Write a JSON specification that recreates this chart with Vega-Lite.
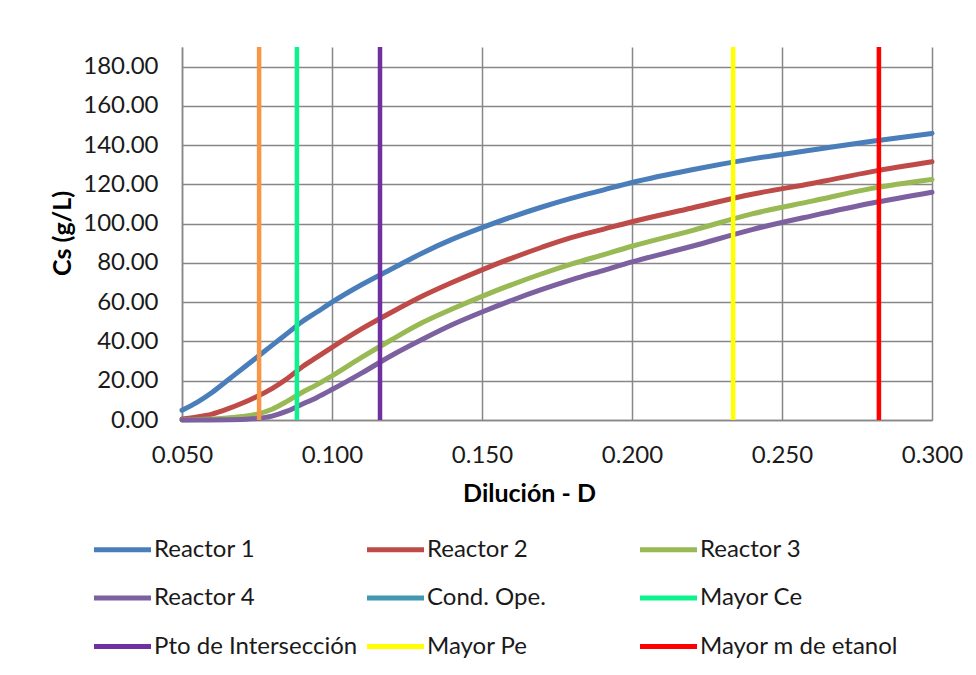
{
  "$schema": "https://vega.github.io/schema/vega-lite/v6.json",
  "width": 750,
  "height": 373,
  "autosize": "none",
  "padding": {"left": 182, "top": 47, "right": 44, "bottom": 255},
  "background": "white",
  "config": {
    "font": "Lato",
    "view": {"stroke": null},
    "axis": {
      "gridColor": "#878787",
      "gridWidth": 1.5,
      "domainColor": "#878787",
      "domainWidth": 1.5,
      "ticks": false,
      "labelFont": "Lato",
      "labelFontSize": 24,
      "labelColor": "#1a1a1a",
      "labelFlush": false,
      "titleFont": "Lato",
      "titleFontSize": 25,
      "titleFontWeight": "bold",
      "titleColor": "#000000"
    }
  },
  "datasets": {
    "curves": [
      {"D": 0.050, "Cs": 5, "serie": "Reactor 1"},
      {"D": 0.055, "Cs": 9, "serie": "Reactor 1"},
      {"D": 0.060, "Cs": 14, "serie": "Reactor 1"},
      {"D": 0.065, "Cs": 20, "serie": "Reactor 1"},
      {"D": 0.070, "Cs": 26, "serie": "Reactor 1"},
      {"D": 0.075, "Cs": 32, "serie": "Reactor 1"},
      {"D": 0.080, "Cs": 38, "serie": "Reactor 1"},
      {"D": 0.085, "Cs": 44, "serie": "Reactor 1"},
      {"D": 0.090, "Cs": 50, "serie": "Reactor 1"},
      {"D": 0.095, "Cs": 55, "serie": "Reactor 1"},
      {"D": 0.100, "Cs": 60, "serie": "Reactor 1"},
      {"D": 0.110, "Cs": 69, "serie": "Reactor 1"},
      {"D": 0.120, "Cs": 77, "serie": "Reactor 1"},
      {"D": 0.130, "Cs": 85, "serie": "Reactor 1"},
      {"D": 0.140, "Cs": 92, "serie": "Reactor 1"},
      {"D": 0.150, "Cs": 98, "serie": "Reactor 1"},
      {"D": 0.160, "Cs": 103.5, "serie": "Reactor 1"},
      {"D": 0.170, "Cs": 108.5, "serie": "Reactor 1"},
      {"D": 0.180, "Cs": 113, "serie": "Reactor 1"},
      {"D": 0.190, "Cs": 117, "serie": "Reactor 1"},
      {"D": 0.200, "Cs": 121, "serie": "Reactor 1"},
      {"D": 0.220, "Cs": 127.5, "serie": "Reactor 1"},
      {"D": 0.240, "Cs": 133, "serie": "Reactor 1"},
      {"D": 0.260, "Cs": 137.5, "serie": "Reactor 1"},
      {"D": 0.280, "Cs": 142, "serie": "Reactor 1"},
      {"D": 0.300, "Cs": 146, "serie": "Reactor 1"},

      {"D": 0.050, "Cs": 0.5, "serie": "Reactor 2"},
      {"D": 0.055, "Cs": 1.5, "serie": "Reactor 2"},
      {"D": 0.060, "Cs": 3, "serie": "Reactor 2"},
      {"D": 0.065, "Cs": 5.5, "serie": "Reactor 2"},
      {"D": 0.070, "Cs": 8.5, "serie": "Reactor 2"},
      {"D": 0.075, "Cs": 12, "serie": "Reactor 2"},
      {"D": 0.080, "Cs": 16, "serie": "Reactor 2"},
      {"D": 0.085, "Cs": 21, "serie": "Reactor 2"},
      {"D": 0.090, "Cs": 27, "serie": "Reactor 2"},
      {"D": 0.095, "Cs": 32, "serie": "Reactor 2"},
      {"D": 0.100, "Cs": 37, "serie": "Reactor 2"},
      {"D": 0.110, "Cs": 46.5, "serie": "Reactor 2"},
      {"D": 0.120, "Cs": 55, "serie": "Reactor 2"},
      {"D": 0.130, "Cs": 63, "serie": "Reactor 2"},
      {"D": 0.140, "Cs": 70, "serie": "Reactor 2"},
      {"D": 0.150, "Cs": 76.5, "serie": "Reactor 2"},
      {"D": 0.160, "Cs": 82.5, "serie": "Reactor 2"},
      {"D": 0.170, "Cs": 88, "serie": "Reactor 2"},
      {"D": 0.180, "Cs": 93, "serie": "Reactor 2"},
      {"D": 0.190, "Cs": 97, "serie": "Reactor 2"},
      {"D": 0.200, "Cs": 101, "serie": "Reactor 2"},
      {"D": 0.220, "Cs": 108, "serie": "Reactor 2"},
      {"D": 0.240, "Cs": 115, "serie": "Reactor 2"},
      {"D": 0.260, "Cs": 120.5, "serie": "Reactor 2"},
      {"D": 0.280, "Cs": 126.5, "serie": "Reactor 2"},
      {"D": 0.300, "Cs": 131.5, "serie": "Reactor 2"},

      {"D": 0.050, "Cs": 0, "serie": "Reactor 3"},
      {"D": 0.060, "Cs": 0.5, "serie": "Reactor 3"},
      {"D": 0.065, "Cs": 1, "serie": "Reactor 3"},
      {"D": 0.070, "Cs": 1.8, "serie": "Reactor 3"},
      {"D": 0.075, "Cs": 3, "serie": "Reactor 3"},
      {"D": 0.080, "Cs": 5.5, "serie": "Reactor 3"},
      {"D": 0.085, "Cs": 9.5, "serie": "Reactor 3"},
      {"D": 0.090, "Cs": 14, "serie": "Reactor 3"},
      {"D": 0.095, "Cs": 18, "serie": "Reactor 3"},
      {"D": 0.100, "Cs": 22.5, "serie": "Reactor 3"},
      {"D": 0.110, "Cs": 32, "serie": "Reactor 3"},
      {"D": 0.120, "Cs": 41, "serie": "Reactor 3"},
      {"D": 0.130, "Cs": 49.5, "serie": "Reactor 3"},
      {"D": 0.140, "Cs": 56.5, "serie": "Reactor 3"},
      {"D": 0.150, "Cs": 63, "serie": "Reactor 3"},
      {"D": 0.160, "Cs": 69, "serie": "Reactor 3"},
      {"D": 0.170, "Cs": 74.5, "serie": "Reactor 3"},
      {"D": 0.180, "Cs": 79.5, "serie": "Reactor 3"},
      {"D": 0.190, "Cs": 84, "serie": "Reactor 3"},
      {"D": 0.200, "Cs": 88.5, "serie": "Reactor 3"},
      {"D": 0.220, "Cs": 96.5, "serie": "Reactor 3"},
      {"D": 0.240, "Cs": 105, "serie": "Reactor 3"},
      {"D": 0.260, "Cs": 111.5, "serie": "Reactor 3"},
      {"D": 0.280, "Cs": 118, "serie": "Reactor 3"},
      {"D": 0.300, "Cs": 122.5, "serie": "Reactor 3"},

      {"D": 0.050, "Cs": 0, "serie": "Reactor 4"},
      {"D": 0.070, "Cs": 0.3, "serie": "Reactor 4"},
      {"D": 0.075, "Cs": 0.8, "serie": "Reactor 4"},
      {"D": 0.080, "Cs": 2, "serie": "Reactor 4"},
      {"D": 0.085, "Cs": 4.5, "serie": "Reactor 4"},
      {"D": 0.090, "Cs": 8, "serie": "Reactor 4"},
      {"D": 0.095, "Cs": 11.5, "serie": "Reactor 4"},
      {"D": 0.100, "Cs": 15.5, "serie": "Reactor 4"},
      {"D": 0.110, "Cs": 24, "serie": "Reactor 4"},
      {"D": 0.120, "Cs": 33, "serie": "Reactor 4"},
      {"D": 0.130, "Cs": 41, "serie": "Reactor 4"},
      {"D": 0.140, "Cs": 48.5, "serie": "Reactor 4"},
      {"D": 0.150, "Cs": 55, "serie": "Reactor 4"},
      {"D": 0.160, "Cs": 61, "serie": "Reactor 4"},
      {"D": 0.170, "Cs": 66.5, "serie": "Reactor 4"},
      {"D": 0.180, "Cs": 71.5, "serie": "Reactor 4"},
      {"D": 0.190, "Cs": 76, "serie": "Reactor 4"},
      {"D": 0.200, "Cs": 80.5, "serie": "Reactor 4"},
      {"D": 0.220, "Cs": 88.5, "serie": "Reactor 4"},
      {"D": 0.240, "Cs": 97, "serie": "Reactor 4"},
      {"D": 0.260, "Cs": 104, "serie": "Reactor 4"},
      {"D": 0.280, "Cs": 110.5, "serie": "Reactor 4"},
      {"D": 0.300, "Cs": 116, "serie": "Reactor 4"}
    ],
    "cond": [
      {"D": 0.0757, "serie": "Cond. Ope."}
    ],
    "vlines": [
      {"D": 0.0883, "serie": "Mayor Ce"},
      {"D": 0.1160, "serie": "Pto de Intersección"},
      {"D": 0.2337, "serie": "Mayor Pe"},
      {"D": 0.2823, "serie": "Mayor m de etanol"}
    ]
  },
  "encoding": {
    "x": {
      "field": "D",
      "type": "quantitative",
      "scale": {"domain": [0.05, 0.3], "nice": false, "zero": false},
      "axis": {
        "title": "Dilución - D",
        "values": [0.05, 0.1, 0.15, 0.2, 0.25, 0.3],
        "format": ".3f",
        "labelPadding": 23,
        "titleX": 347,
        "titleY": 73,
        "titleBaseline": "middle",
        "titleAlign": "center",
        "titleAnchor": null
      }
    }
  },
  "layer": [
    {
      "data": {"name": "curves"},
      "mark": {"type": "line", "strokeWidth": 5, "interpolate": "monotone", "strokeCap": "round"},
      "encoding": {
        "y": {
          "field": "Cs",
          "type": "quantitative",
          "scale": {"domain": [0, 190], "nice": false},
          "axis": {
            "title": "Cs (g/L)",
            "values": [0, 20, 40, 60, 80, 100, 120, 140, 160, 180],
            "format": ".2f",
            "labelPadding": 24,
            "titleX": -120,
            "titleY": 186,
            "titleAngle": -90,
            "titleBaseline": "middle",
            "titleAlign": "center",
            "titleAnchor": null
          }
        },
        "color": {
          "field": "serie",
          "type": "nominal",
          "scale": {
            "domain": ["Reactor 1", "Reactor 2", "Reactor 3", "Reactor 4", "Cond. Ope.", "Mayor Ce", "Pto de Intersección", "Mayor Pe", "Mayor m de etanol"],
            "range": ["#4A7EBB", "#BE4B48", "#98B954", "#7D60A0", "#4198AF", "#0CF28C", "#7030A0", "#FFFF00", "#FF0000"]
          },
          "legend": {
            "title": null,
            "orient": "none",
            "legendX": -91,
            "legendY": 471,
            "direction": "horizontal",
            "columns": 3,
            "gridAlign": "all",
            "symbolType": "stroke",
            "symbolSize": 3250,
            "symbolStrokeWidth": 5,
            "labelFont": "Lato",
            "labelFontSize": 24,
            "labelColor": "#1a1a1a",
            "labelOffset": 0,
            "labelLimit": 300,
            "columnPadding": -2,
            "rowPadding": 4.5
          }
        }
      }
    },
    {
      "data": {"name": "cond"},
      "mark": {"type": "rule", "strokeWidth": 4.5, "color": "#F79646"},
      "encoding": {}
    },
    {
      "data": {"name": "vlines"},
      "mark": {"type": "rule", "strokeWidth": 4.5},
      "encoding": {
        "color": {"field": "serie", "type": "nominal", "legend": null}
      }
    }
  ]
}
